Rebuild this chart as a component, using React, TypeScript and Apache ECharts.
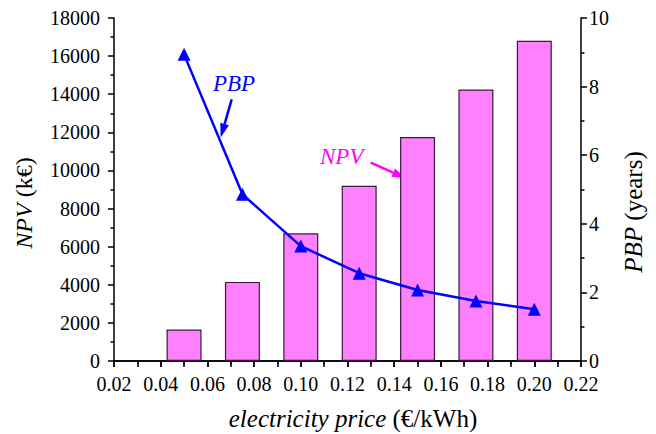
import React, { useEffect, useRef } from "react";
import * as echarts from "echarts";

const prices = [0.05, 0.075, 0.1, 0.125, 0.15, 0.175, 0.2];
const npv = [1650, 4150, 6700, 9200, 11750, 14250, 16800];
const pbp = [8.94, 4.86, 3.35, 2.56, 2.07, 1.75, 1.51];

const FONT = "Liberation Serif";

function arrow(x1: number, y1: number, x2: number, y2: number, color: string, headLen: number, headW: number) {
  const dx = x2 - x1, dy = y2 - y1;
  const L = Math.sqrt(dx * dx + dy * dy);
  const ux = dx / L, uy = dy / L;
  const bx = x2 - ux * headLen, by = y2 - uy * headLen;
  const px = -uy, py = ux;
  return [
    { type: "line", shape: { x1, y1, x2: bx, y2: by }, style: { stroke: color, lineWidth: 2.5 } },
    {
      type: "polygon",
      shape: { points: [[x2, y2], [bx + px * headW / 2, by + py * headW / 2], [bx - px * headW / 2, by - py * headW / 2]] },
      style: { fill: color },
    },
  ];
}

function axisTitle(text: string, x: number, y: number, rotation: number, size: number) {
  return {
    type: "text",
    x,
    y,
    rotation,
    style: {
      text,
      fill: "#000",
      fontFamily: FONT,
      fontSize: size,
      align: "center",
      verticalAlign: "middle",
      rich: { i: { fontStyle: "italic", fontFamily: FONT, fontSize: size, fill: "#000", color: "#000" } },
    },
  };
}

export default function App() {
  const ref = useRef<HTMLDivElement>(null);
  useEffect(() => {
    document.body.style.margin = "0";
    const chart = echarts.init(ref.current!, undefined, { renderer: "svg" });
    const axisLine = { show: true, lineStyle: { color: "#000", width: 1.5 } };
    const labelStyle = { color: "#000", fontFamily: FONT, fontSize: 20 };
    const tick = (inside: boolean, len: number) => ({ show: true, inside, length: len, lineStyle: { color: "#000", width: 1.5 } });
    const minor = (len: number) => ({ show: true, splitNumber: 2, length: len, lineStyle: { color: "#000", width: 1.5 } });
    chart.setOption({
      animation: false,
      backgroundColor: "#fff",
      textStyle: { fontFamily: FONT },
      grid: { left: 114, right: 75, top: 18, bottom: 73 },
      xAxis: [
        {
          type: "value",
          min: 0.02,
          max: 0.22,
          interval: 0.02,
          position: "bottom",
          axisLine,
          axisTick: tick(false, 6),
          minorTick: minor(3.5),
          splitLine: { show: false },
          axisLabel: { ...labelStyle, margin: 13, formatter: (v: number) => v.toFixed(2) },
        },
        {
          type: "value",
          min: 0.02,
          max: 0.22,
          interval: 0.02,
          position: "top",
          axisLine,
          axisTick: tick(true, 6),
          minorTick: minor(6),
          splitLine: { show: false },
          axisLabel: { show: false },
        },
      ],
      yAxis: [
        {
          type: "value",
          min: 0,
          max: 18000,
          interval: 2000,
          position: "left",
          axisLine,
          axisTick: tick(false, 6),
          minorTick: minor(3.5),
          splitLine: { show: false },
          axisLabel: { ...labelStyle, margin: 14, formatter: (v: number) => String(v) },
        },
        {
          type: "value",
          min: 0,
          max: 10,
          interval: 2,
          position: "right",
          axisLine,
          axisTick: tick(false, 6),
          minorTick: minor(3.5),
          splitLine: { show: false },
          axisLabel: { ...labelStyle, margin: 8, formatter: (v: number) => String(v) },
        },
      ],
      series: [
        {
          type: "bar",
          xAxisIndex: 0,
          yAxisIndex: 0,
          data: prices.map((p, i) => [p, npv[i]]),
          barWidth: 35,
          itemStyle: { color: "#FF80FF", borderColor: "#3a1a3a", borderWidth: 1.2 },
          z: 2,
        },
        {
          type: "line",
          xAxisIndex: 0,
          yAxisIndex: 1,
          data: prices.map((p, i) => [p, pbp[i]]),
          lineStyle: { color: "#0000FF", width: 2.5 },
          itemStyle: { color: "#0000FF" },
          symbol: "triangle",
          symbolSize: 13,
          z: 3,
        },
      ],
      graphic: [
        axisTitle("{i|electricity price} (€/kWh)", 353, 418, 0, 25),
        axisTitle("{i|NPV} (k€)", 24, 203, Math.PI / 2, 24),
        axisTitle("{i|PBP} (years)", 633, 212, Math.PI / 2, 25),
        {
          type: "text",
          left: 213,
          top: 72,
          style: { text: "PBP", fill: "#0000FF", fontStyle: "italic", fontSize: 23, fontFamily: FONT },
        },
        {
          type: "text",
          left: 320,
          top: 145,
          style: { text: "NPV", fill: "#FF00FF", fontStyle: "italic", fontSize: 23, fontFamily: FONT },
        },
        ...arrow(231.7, 99.3, 220.7, 137.5, "#0000FF", 14, 9),
        ...arrow(370.7, 162.7, 406, 178.3, "#FF00FF", 14, 9),
      ],
    });
    return () => chart.dispose();
  }, []);
  return <div ref={ref} style={{ width: 656, height: 434 }} />;
}
